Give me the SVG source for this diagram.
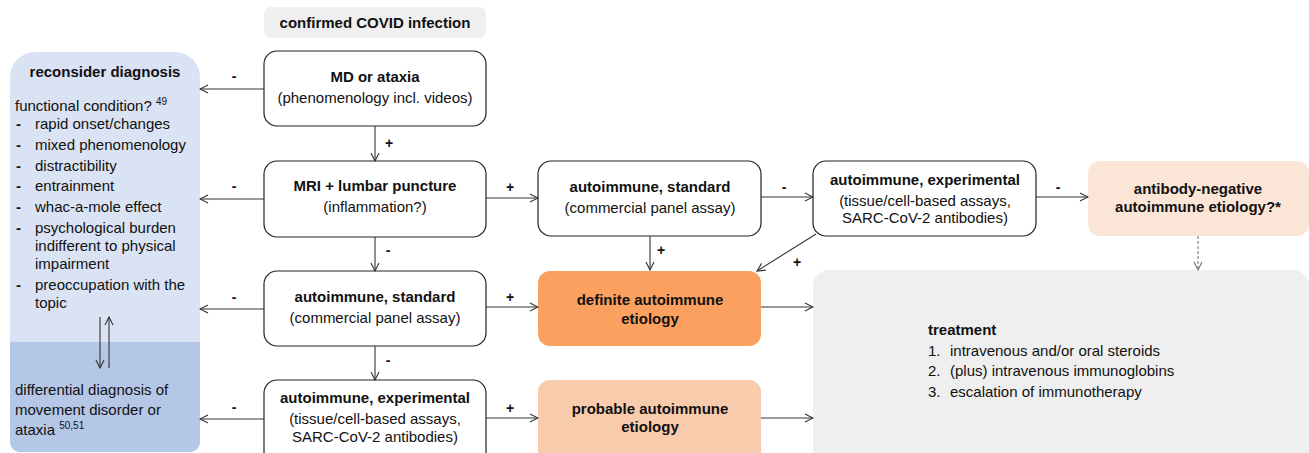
<svg xmlns="http://www.w3.org/2000/svg" width="1309" height="453" viewBox="0 0 1309 453">
<style>
text{font-family:"Liberation Sans",Arial,sans-serif;font-size:15px;fill:#111}
.b{font-weight:bold}
.c{text-anchor:middle}
.box{fill:#fff;stroke:#222;stroke-width:1.2}
.ln{stroke:#333;stroke-width:1.1;fill:none}
.sig{font-weight:bold;font-size:14px;text-anchor:middle}
.sup{font-size:10px}
</style>
<defs>
<marker id="ah" markerWidth="10" markerHeight="10" refX="9" refY="5" orient="auto" markerUnits="userSpaceOnUse">
<path d="M1,1 L9,5 L1,9" fill="none" stroke="#333" stroke-width="1.1"/>
</marker>
<marker id="ahg" markerWidth="10" markerHeight="10" refX="9" refY="5" orient="auto" markerUnits="userSpaceOnUse">
<path d="M1,1 L9,5 L1,9" fill="none" stroke="#777" stroke-width="1.1"/>
</marker>
<clipPath id="pc"><path d="M35,52 H175 A25,25 0 0 1 200,77 V442 A10,10 0 0 1 190,452 H20 A10,10 0 0 1 10,442 V77 A25,25 0 0 1 35,52 Z"/></clipPath>
</defs>

<g id="panel">
<g clip-path="url(#pc)">
<rect x="10" y="52" width="190" height="400" fill="#dae3f3"/>
<rect x="10" y="342" width="190" height="110" fill="#b4c7e7"/>
</g>
<text class="b c" x="105" y="77">reconsider diagnosis</text>
<text x="15" y="111">functional condition? <tspan class="sup" dy="-6">49</tspan></text>
<g>
<text class="b" x="16" y="129">-</text><text x="35" y="129">rapid onset/changes</text>
<text class="b" x="16" y="150">-</text><text x="35" y="150">mixed phenomenology</text>
<text class="b" x="16" y="171">-</text><text x="35" y="171">distractibility</text>
<text class="b" x="16" y="191">-</text><text x="35" y="191">entrainment</text>
<text class="b" x="16" y="212">-</text><text x="35" y="212">whac-a-mole effect</text>
<text class="b" x="16" y="233">-</text><text x="35" y="233">psychological burden</text>
<text x="35" y="251">indifferent to physical</text>
<text x="35" y="269">impairment</text>
<text class="b" x="16" y="290">-</text><text x="35" y="290">preoccupation with the</text>
<text x="35" y="308">topic</text>
</g>
<text x="15" y="395">differential diagnosis of</text>
<text x="15" y="415">movement disorder or</text>
<text x="15" y="435">ataxia <tspan class="sup" dy="-6">50,51</tspan></text>
</g>

<g id="covid">
<rect x="264" y="7" width="222" height="31" rx="7" fill="#efefef"/>
<text class="b c" x="375" y="28">confirmed COVID infection</text>
</g>

<g id="md">
<rect class="box" x="264" y="51" width="222" height="75" rx="13"/>
<text class="b c" x="375" y="82">MD or ataxia</text>
<text class="c" x="375" y="103">(phenomenology incl. videos)</text>
</g>

<g id="mri">
<rect class="box" x="264" y="161" width="222" height="76" rx="13"/>
<text class="b c" x="375" y="191">MRI + lumbar puncture</text>
<text class="c" x="375" y="212">(inflammation?)</text>
</g>

<g id="std-left">
<rect class="box" x="264" y="271" width="222" height="75" rx="13"/>
<text class="b c" x="375" y="302">autoimmune, standard</text>
<text class="c" x="375" y="323">(commercial panel assay)</text>
</g>

<g id="exp-left">
<rect class="box" x="264" y="380" width="222" height="85" rx="13"/>
<text class="b c" x="375" y="403">autoimmune, experimental</text>
<text class="c" x="375" y="424">(tissue/cell-based assays,</text>
<text class="c" x="375" y="442">SARC-CoV-2 antibodies)</text>
</g>

<g id="std-top">
<rect class="box" x="538" y="161" width="223" height="75" rx="13"/>
<text class="b c" x="650" y="192">autoimmune, standard</text>
<text class="c" x="650" y="213">(commercial panel assay)</text>
</g>

<g id="exp-top">
<rect class="box" x="813" y="161" width="223" height="75" rx="13"/>
<text class="b c" x="925" y="185">autoimmune, experimental</text>
<text class="c" x="925" y="206">(tissue/cell-based assays,</text>
<text class="c" x="925" y="223">SARC-CoV-2 antibodies)</text>
</g>

<g id="abneg">
<rect x="1088" y="161" width="221" height="75" rx="12" fill="#fbe5d6"/>
<text class="b c" x="1198" y="194">antibody-negative</text>
<text class="b c" x="1198" y="212">autoimmune etiology?*</text>
</g>

<g id="definite">
<rect x="538" y="271" width="223" height="75" rx="12" fill="#fba05e"/>
<text class="b c" x="650" y="305">definite autoimmune</text>
<text class="b c" x="650" y="324">etiology</text>
</g>

<g id="probable">
<rect x="538" y="380" width="223" height="85" rx="12" fill="#f8cbad"/>
<text class="b c" x="650" y="414">probable autoimmune</text>
<text class="b c" x="650" y="432">etiology</text>
</g>

<g id="treatment">
<rect x="813" y="270" width="496" height="195" rx="16" fill="#efefef"/>
<text class="b" x="928" y="335">treatment</text>
<text x="928" y="356">1.</text><text x="950" y="356">intravenous and/or oral steroids</text>
<text x="928" y="376">2.</text><text x="950" y="376">(plus) intravenous immunoglobins</text>
<text x="928" y="397">3.</text><text x="950" y="397">escalation of immunotherapy</text>
</g>

<g id="connectors">
<line class="ln" x1="375" y1="126" x2="375" y2="161" marker-end="url(#ah)"/>
<line class="ln" x1="375" y1="237" x2="375" y2="271" marker-end="url(#ah)"/>
<line class="ln" x1="375" y1="346" x2="375" y2="380" marker-end="url(#ah)"/>
<line class="ln" x1="264" y1="89" x2="200" y2="89" marker-end="url(#ah)"/>
<line class="ln" x1="264" y1="199" x2="200" y2="199" marker-end="url(#ah)"/>
<line class="ln" x1="264" y1="309" x2="200" y2="309" marker-end="url(#ah)"/>
<line class="ln" x1="264" y1="419" x2="200" y2="419" marker-end="url(#ah)"/>
<line class="ln" x1="486" y1="198" x2="538" y2="198" marker-end="url(#ah)"/>
<line class="ln" x1="761" y1="197" x2="813" y2="197" marker-end="url(#ah)"/>
<line class="ln" x1="1036" y1="197" x2="1088" y2="197" marker-end="url(#ah)"/>
<line class="ln" x1="650" y1="236" x2="650" y2="270" marker-end="url(#ah)"/>
<line class="ln" x1="816" y1="234" x2="757" y2="271" marker-end="url(#ah)"/>
<line class="ln" x1="486" y1="307" x2="538" y2="307" marker-end="url(#ah)"/>
<line class="ln" x1="486" y1="418" x2="538" y2="418" marker-end="url(#ah)"/>
<line class="ln" x1="761" y1="307" x2="813" y2="307" marker-end="url(#ah)"/>
<line class="ln" x1="761" y1="418" x2="813" y2="418" marker-end="url(#ah)"/>
<line x1="1198" y1="236" x2="1198" y2="270" stroke="#777" stroke-width="1.1" stroke-dasharray="3,2" marker-end="url(#ahg)"/>
<line class="ln" x1="100" y1="317" x2="100" y2="368" marker-end="url(#ah)"/>
<line class="ln" x1="109" y1="368" x2="109" y2="317" marker-end="url(#ah)"/>
<text class="sig" x="389" y="148">+</text>
<text class="sig" x="388" y="255">-</text>
<text class="sig" x="388" y="365">-</text>
<text class="sig" x="234" y="81">-</text>
<text class="sig" x="234" y="191">-</text>
<text class="sig" x="234" y="302">-</text>
<text class="sig" x="234" y="412">-</text>
<text class="sig" x="510" y="192">+</text>
<text class="sig" x="784" y="192">-</text>
<text class="sig" x="1058" y="192">-</text>
<text class="sig" x="661" y="255">+</text>
<text class="sig" x="797" y="267">+</text>
<text class="sig" x="510" y="302">+</text>
<text class="sig" x="510" y="413">+</text>
</g>
</svg>
